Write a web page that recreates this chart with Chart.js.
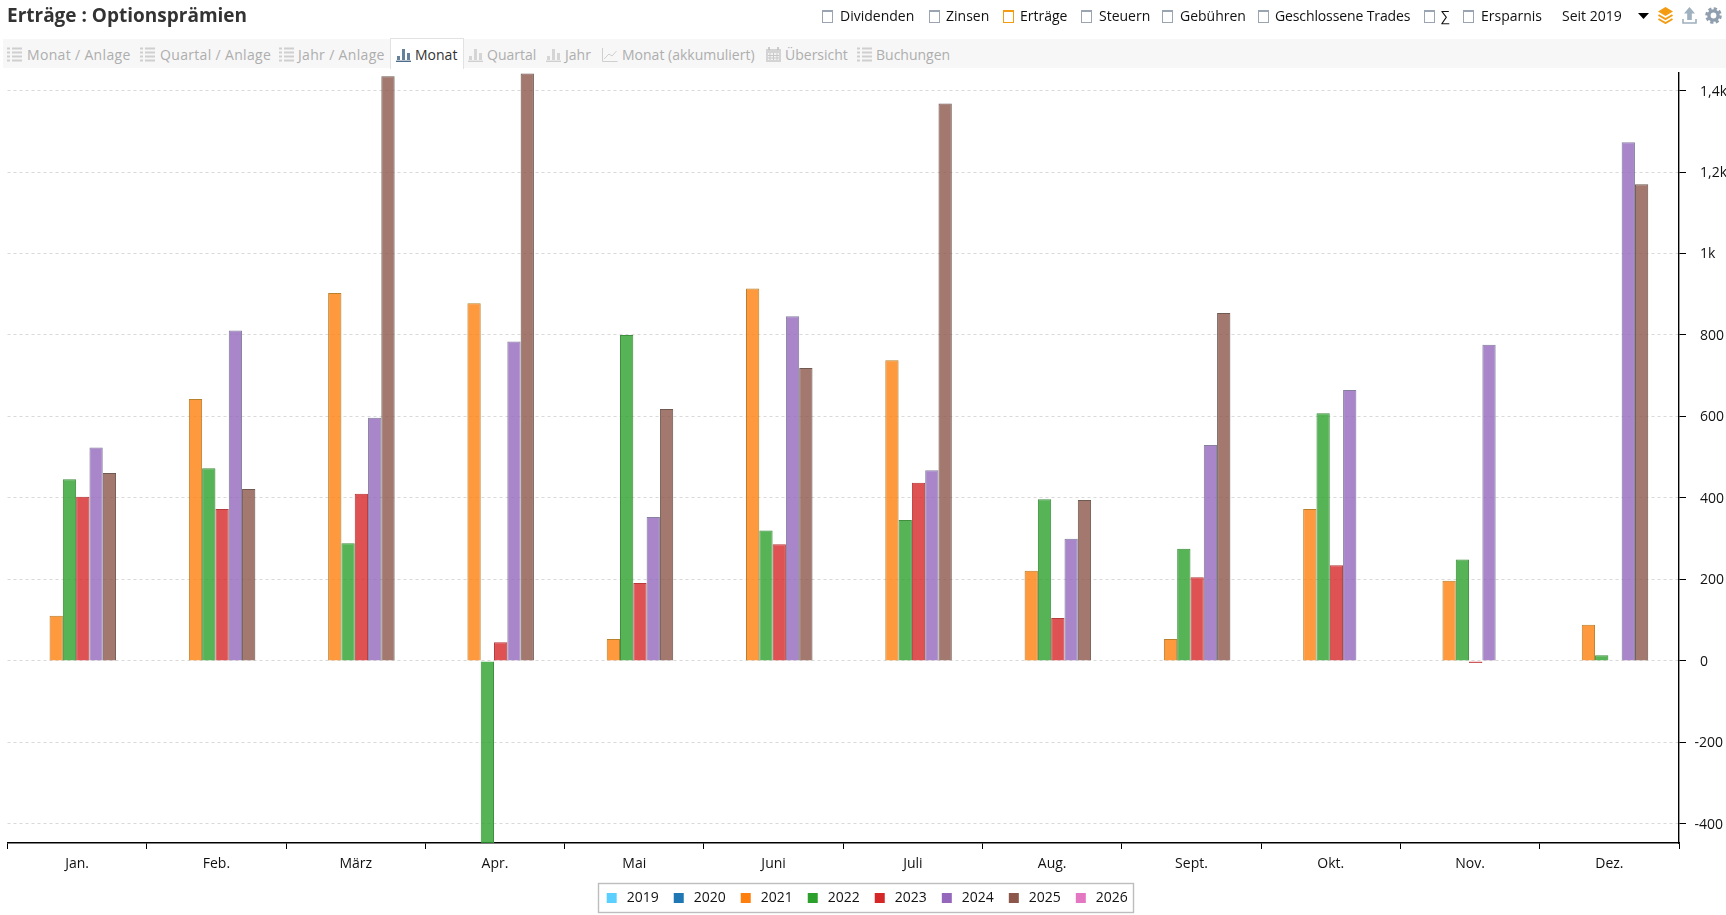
<!DOCTYPE html>
<html lang="de">
<head>
<meta charset="utf-8">
<title>Erträge : Optionsprämien</title>
<script src="https://cdn.jsdelivr.net/npm/chart.js@4/dist/chart.umd.min.js"></script>
<style>
html,body{margin:0;padding:0;background:#fff;width:1726px;height:915px;overflow:hidden;font-family:"Open Sans",sans-serif;color:#111}
#wrap{position:relative;width:1726px;height:915px}
canvas#c{position:absolute;left:0;top:0}
.a{position:absolute;white-space:nowrap;line-height:20px}
#title{left:7px;top:2px;font-size:19px;font-weight:700;line-height:26px;color:#333}
.top{top:6px;font-size:14px;color:#111}
.box{position:absolute;top:10px;width:9px;height:10px;border:1.4px solid #9aa5b1;box-sizing:content-box;border-top-width:2.4px;background:#fff}
.box.on{border-color:#f39c12}
#strip{position:absolute;left:3px;top:39px;width:1723px;height:29px;background:#f7f7f7}
#active{position:absolute;left:390px;top:38px;width:74px;height:31px;background:#fff;border:1px solid #e2e2e2;border-bottom:none;box-sizing:border-box}
.tab{top:45px;font-size:14px;color:#aeaeae}
.tab.on{color:#333}
.wide{letter-spacing:.33px}
svg.i{position:absolute}
</style>
</head>
<body>
<div id="wrap">
<canvas id="c" width="1726" height="915"></canvas>
<div class="a" id="title">Erträge : Optionsprämien</div>

<span class="box" style="left:822px"></span><span class="a top" style="left:840px">Dividenden</span>
<span class="box" style="left:929px"></span><span class="a top" style="left:946px">Zinsen</span>
<span class="box on" style="left:1003px"></span><span class="a top" style="left:1020px">Erträge</span>
<span class="box" style="left:1081px"></span><span class="a top" style="left:1099px">Steuern</span>
<span class="box" style="left:1162px"></span><span class="a top" style="left:1180px">Gebühren</span>
<span class="box" style="left:1258px"></span><span class="a top" style="left:1275px;letter-spacing:-.12px">Geschlossene Trades</span>
<span class="box" style="left:1424px"></span><span class="a top" style="left:1441px">∑</span>
<span class="box" style="left:1463px"></span><span class="a top" style="left:1481px">Ersparnis</span>
<span class="a top" style="left:1562px">Seit 2019</span>

<svg class="i" style="left:1638px;top:12px" width="12" height="8"><path d="M0 1H11L5.5 7Z" fill="#000"/></svg>
<svg class="i" style="left:1657px;top:7px" width="17" height="17" viewBox="0 0 17 17"><path d="M8.5 0L16 4.5L8.5 9L1 4.5Z" fill="#f39c12"/><path d="M1.5 8L8.5 12L15.5 8M1.5 12L8.5 16L15.5 12" fill="none" stroke="#f39c12" stroke-width="2"/></svg>
<svg class="i" style="left:1682px;top:7px" width="15" height="17" viewBox="0 0 15 17"><path d="M7.5 0L13 6.5H9.8V13H5.2V6.5H2Z" fill="#9fb0bf"/><path d="M1 12V16H14V12" fill="none" stroke="#9fb0bf" stroke-width="1.6"/></svg>
<svg class="i" style="left:1705px;top:7px" width="17" height="17" viewBox="0 0 17 17"><circle cx="8.5" cy="8.5" r="4.6" fill="none" stroke="#8f9faf" stroke-width="3.4"/><circle cx="8.5" cy="8.5" r="7" fill="none" stroke="#8f9faf" stroke-width="2.6" stroke-dasharray="3.2 2.3"/></svg>

<div id="strip"></div><div id="active"></div>

<svg class="i" style="left:7px;top:47px" width="15" height="15"><use href="#list"/></svg><span class="a tab wide" style="left:27px">Monat / Anlage</span>
<svg class="i" style="left:140px;top:47px" width="15" height="15"><use href="#list"/></svg><span class="a tab wide" style="left:160px">Quartal / Anlage</span>
<svg class="i" style="left:279px;top:47px" width="15" height="15"><use href="#list"/></svg><span class="a tab wide" style="left:298px">Jahr / Anlage</span>
<svg class="i" style="left:396px;top:47px;color:#4d6b8a" width="15" height="15"><use href="#bars"/></svg><span class="a tab on" style="left:415px">Monat</span>
<svg class="i" style="left:468px;top:47px" width="15" height="15"><use href="#bars"/></svg><span class="a tab" style="left:487px">Quartal</span>
<svg class="i" style="left:546px;top:47px" width="15" height="15"><use href="#bars"/></svg><span class="a tab" style="left:565px">Jahr</span>
<svg class="i" style="left:602px;top:47px" width="16" height="15"><path d="M.5 1V14.5H15.5" fill="none" stroke="#cfcfcf"/><path d="M2 12L7 7L10 9L14.5 4" fill="none" stroke="#cfcfcf"/></svg><span class="a tab" style="left:622px">Monat (akkumuliert)</span>
<svg class="i" style="left:766px;top:47px" width="15" height="15"><path d="M0 2H15V15H0Z" fill="#d4d4d4"/><path d="M2 6H13V13H2Z" fill="#f2f2f2"/><path d="M4 6V13M7.5 6V13M11 6V13M2 8.5H13M2 11H13" stroke="#c8c8c8"/><path d="M3 0V3M12 0V3" stroke="#c0c0c0" stroke-width="1.6"/></svg><span class="a tab" style="left:785px">Übersicht</span>
<svg class="i" style="left:857px;top:47px" width="15" height="15"><use href="#list"/></svg><span class="a tab" style="left:876px">Buchungen</span>

<svg width="0" height="0" style="position:absolute"><defs>
<g id="list"><path d="M0 2H3M5 2H15M0 6H3M5 6H15M0 10H3M5 10H15M0 14H3M5 14H15" stroke="#cfcfcf" stroke-width="2.2" transform="translate(0,-.5)"/></g>
<g id="bars" style="color:inherit"><path d="M1 13V9H4V13ZM6 13V2H9V13ZM11 13V6H14V13Z" fill="currentColor" opacity=".85"/><path d="M0 14.3H15" stroke="currentColor" stroke-width="1.4"/></g>
</defs></svg>
<style>svg.i{color:#cfcfcf}</style>
</div>
<script>
const months = ["Jan.","Feb.","März","Apr.","Mai","Juni","Juli","Aug.","Sept.","Okt.","Nov.","Dez."];
const years = ["2019","2020","2021","2022","2023","2024","2025","2026"];
const yTicks = [-400,-200,0,200,400,600,800,1000,1200,1400];
const yMin = -447;
const yMax = 1443;

const v2019 = [null,null,null,null,null,null,null,null,null,null,null,null];
const v2020 = [null,null,null,null,null,null,null,null,null,null,null,null];
const v2021 = [111,643,903,878,54,914,738,221,54,373,197,89];
const v2022 = [446,473,289,-470,800,320,346,397,275,608,249,14];
const v2023 = [403,373,410,46,191,286,437,105,205,235,-5,null];
const v2024 = [524,811,597,784,353,846,468,300,530,665,776,1273];
const v2025 = [461,422,1435,1442,618,719,1368,395,854,null,null,1170];
const v2026 = [null,null,null,null,null,null,null,null,null,null,null,null];

const seriesValues = [v2019,v2020,v2021,v2022,v2023,v2024,v2025,v2026];
const solid  = ["#5bcfff","#1f77b4","#ff7f0e","#2ca02c","#d62728","#9467bd","#8c564b","#e377c2"];
const fills  = ["rgba(91,207,255,.8)","rgba(31,119,180,.8)","rgba(255,127,14,.8)","rgba(44,160,44,.8)","rgba(214,39,40,.8)","rgba(148,103,189,.8)","rgba(140,86,75,.8)","rgba(227,119,194,.8)"];
const edges  = ["#4aa8cf","#1a6496","#b9812c","#3f8f3f","#b53a3a","#84809e","#6f5a52","#b86a9e"];
const FONT = '"Open Sans", sans-serif';

function swatch(color){
  const cv = document.createElement('canvas');
  cv.width = 14; cv.height = 10;
  const g = cv.getContext('2d');
  g.fillStyle = color;
  g.fillRect(1,0,10,10);
  return cv;
}

const legendFrame = {
  id:'legendFrame',
  afterDraw(chart){
    const boxes = chart.legend && chart.legend.legendHitBoxes;
    if(!boxes || !boxes.length) return;
    const l = Math.min(...boxes.map(b=>b.left));
    const r = Math.max(...boxes.map(b=>b.left+b.width));
    const m = boxes[0].top + boxes[0].height/2;
    const ctx = chart.ctx;
    ctx.save();
    ctx.strokeStyle='#bdbdbd'; ctx.lineWidth=1.4;
    ctx.strokeRect(Math.round(l)-7.5, Math.round(m)-14.5, Math.round(r-l)+13, 29);
    ctx.restore();
  }
};
const negativeLabels = {
  id:'negativeLabels',
  afterDraw(chart){
    const s = chart.scales.y, ctx = chart.ctx;
    ctx.save();
    ctx.font = '14px '+FONT; ctx.fillStyle='#111'; ctx.textAlign='right'; ctx.textBaseline='middle';
    s.ticks.forEach(t=>{
      if(t.value<0) ctx.fillText(String(t.value), 1723, s.getPixelForValue(t.value)+1);
    });
    ctx.restore();
  }
};
const barNudge = {
  id:'barNudge',
  beforeDatasetsDraw(chart){ chart.ctx.save(); chart.ctx.translate(-1,0); },
  afterDatasetsDraw(chart){ chart.ctx.restore(); }
};

new Chart(document.getElementById('c'),{
  type:'bar',
  data:{
    labels:months,
    datasets:years.map((y,i)=>({
      label:y, data:seriesValues[i],
      backgroundColor:fills[i], borderColor:edges[i], borderWidth:1,
      categoryPercentage:0.764, barPercentage:1
    }))
  },
  plugins:[legendFrame,negativeLabels,barNudge],
  options:{
    responsive:false, animation:false,
    layout:{padding:{left:7.5,right:0,top:73,bottom:0.25}},
    plugins:{
      tooltip:{enabled:false},
      legend:{
        position:'bottom',
        labels:{
          usePointStyle:true,pointStyleWidth:14,boxHeight:10,padding:14,color:'#111',font:{family:FONT,size:14},
          generateLabels(chart){
            return chart.data.datasets.map((d,i)=>({text:d.label,pointStyle:swatch(solid[i]),fillStyle:solid[i],strokeStyle:solid[i],lineWidth:0,datasetIndex:i,fontColor:'#111'}));
          }
        }
      }
    },
    scales:{
      x:{
        offset:true,
        grid:{offset:true,drawOnChartArea:false,drawTicks:true,tickLength:6,tickColor:'#000',tickWidth:1},
        border:{display:true,color:'#000',width:1.4},
        ticks:{color:'#111',font:{family:FONT,size:14},padding:7,maxRotation:0,autoSkip:false},
        afterFit(s){s.height=33.75;}
      },
      y:{
        position:'right',min:yMin,max:yMax,
        afterBuildTicks(s){s.ticks=yTicks.map(v=>({value:v}));},
        afterFit(s){s.width=47;},
        grid:{color:'#d9d9d9',lineWidth:1,drawTicks:true,tickLength:7,tickColor:'#000',tickWidth:1,tickBorderDash:[]},
        border:{display:true,color:'#000',width:1.4,dash:[3,3]},
        ticks:{
          padding:14,crossAlign:'near',labelOffset:1,font:{family:FONT,size:14},
          color(c){return c.tick && c.tick.value<0?'rgba(0,0,0,0)':'#111';},
          callback(v){return Math.abs(v)>=1000?(v/1000).toLocaleString('de-DE')+'k':String(v);}
        }
      }
    }
  }
});
</script>
</body>
</html>
